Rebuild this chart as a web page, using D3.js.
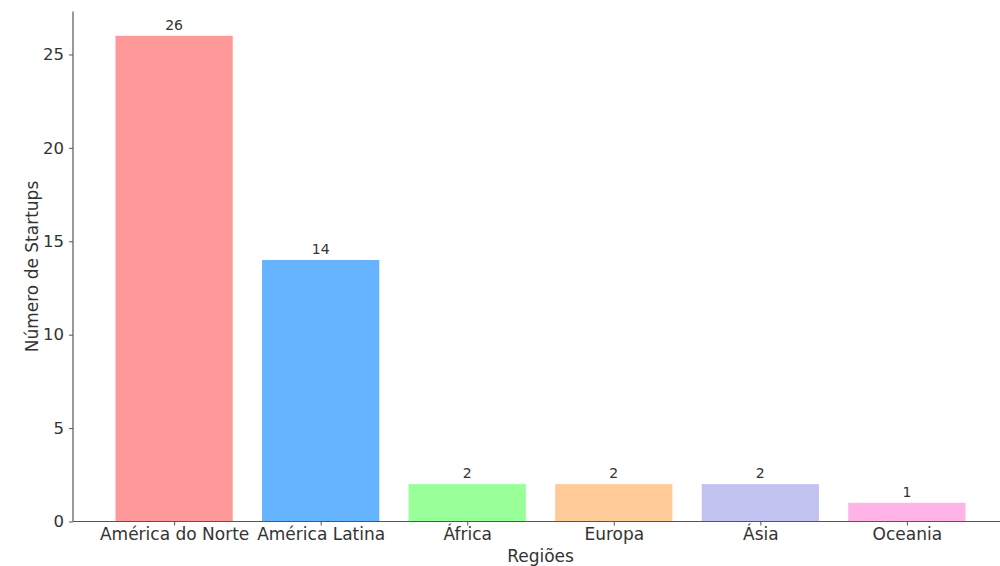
<!DOCTYPE html>
<html><head><meta charset="utf-8">
<script src="https://cdn.jsdelivr.net/npm/d3@7"></script>
<style>body{margin:0;background:#fff}svg{display:block}text{font-family:"DejaVu Sans",sans-serif}</style>
</head><body><svg id="c" width="1000" height="566"></svg>
<script>
const regions = ["América do Norte","América Latina","África","Europa","Ásia","Oceania"];
const counts = [26,14,2,2,2,1];
const colors = ["#ff9999","#66b3ff","#99ff99","#ffcc99","#c2c2f0","#ffb3e6"];
const yTicks = [0,5,10,15,20,25];

const svg = d3.select("#c");
const L = 73, R = 1008, T = 11.5, B = 521.5;
const x = d3.scaleLinear().domain([-0.69, regions.length - 1 + 0.69]).range([L, R]);
const y = d3.scaleLinear().domain([0, 27.3]).range([B, T]);
const bw = x(0.4) - x(-0.4);
const ink = "#333";

svg.selectAll("rect.bar").data(counts).join("rect")
  .attr("class","bar")
  .attr("x",(d,i)=>x(i)-bw/2).attr("width",bw)
  .attr("y",d=>y(d)).attr("height",d=>B-y(d))
  .attr("fill",(d,i)=>colors[i]);

svg.selectAll("text.val").data(counts).join("text")
  .attr("class","val")
  .attr("x",(d,i)=>x(i)).attr("y",d=>y(d)-6)
  .attr("text-anchor","middle").attr("font-size",14).attr("fill",ink)
  .text(d=>d);

const xAxis = d3.axisBottom(x).tickValues(d3.range(regions.length)).tickFormat(i=>regions[i]).tickSize(4).tickPadding(2);
const gx = svg.append("g").attr("transform",`translate(0,${B})`).call(xAxis);
gx.select(".domain").attr("stroke","#555").attr("stroke-width",1.2).attr("d",`M${L},0H${R}`);
gx.selectAll(".tick line").attr("stroke","#555");
gx.selectAll(".tick text").attr("font-size",17).attr("fill",ink).attr("font-family","DejaVu Sans");

const yAxis = d3.axisLeft(y).tickValues(yTicks).tickSize(4).tickPadding(5);
const gy = svg.append("g").attr("transform",`translate(${L},0)`).call(yAxis);
gy.select(".domain").attr("stroke","#555").attr("stroke-width",1.2).attr("d",`M0,${T}V${B}`);
gy.selectAll(".tick line").attr("stroke","#555");
gy.selectAll(".tick text").attr("font-size",16.5).attr("fill",ink).attr("font-family","DejaVu Sans");

svg.append("text").attr("x",(L+R)/2).attr("y",562).attr("text-anchor","middle")
  .attr("font-size",17).attr("fill",ink).text("Regiões");
svg.append("text").attr("transform",`translate(38,${(T+B)/2}) rotate(-90)`).attr("text-anchor","middle")
  .attr("font-size",17).attr("fill",ink).text("Número de Startups");
</script></body></html>
